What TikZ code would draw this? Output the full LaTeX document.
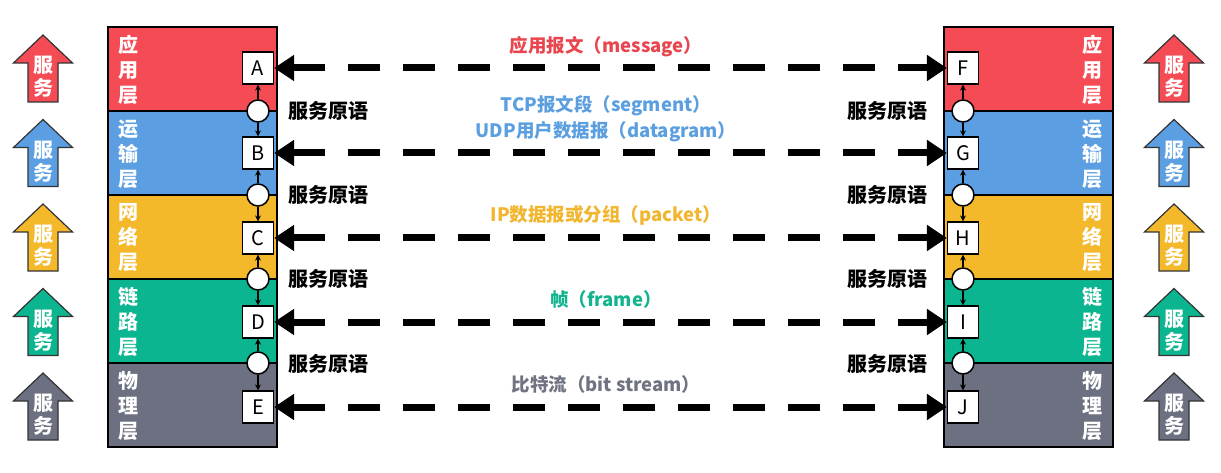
\documentclass[tikz,border=0pt]{standalone}
\usepackage{fontspec}
\setmainfont{Noto Sans CJK SC}
\usetikzlibrary{arrows.meta}
\definecolor{lred}{HTML}{F44B55}
\definecolor{lblue}{HTML}{5B9FE2}
\definecolor{lyellow}{HTML}{F4B92B}
\definecolor{lgreen}{HTML}{0BB58F}
\definecolor{lgray}{HTML}{6C7081}
\definecolor{tred}{HTML}{E9454F}
\definecolor{tblue}{HTML}{5B9FE0}
\definecolor{tyellow}{HTML}{F1B52E}
\definecolor{tgreen}{HTML}{12B48E}
\definecolor{tgray}{HTML}{707382}
\tikzset{
  layerbox/.style={draw=black, line width=1.5pt, minimum width=169pt, minimum height=84pt, inner sep=0pt, outer sep=0pt},
  layertext/.style={text=white, font=\fontsize{20}{25}\selectfont\bfseries, align=center, inner sep=0pt},
  sapbox/.style={draw=black, fill=white, line width=1.2pt, minimum width=31pt, minimum height=32pt, inner sep=0pt, font=\fontsize{20}{22}\selectfont},
  sapcirc/.style={circle, draw=black, fill=white, line width=1.5pt, minimum size=22pt, inner sep=0pt},
  small/.style={line width=1.3pt, -{Stealth[length=6pt,width=6pt]}},
  pdu/.style={line width=7pt, dash pattern=on 32pt off 23pt, {Triangle[length=20pt,width=25pt]}-{Triangle[length=20pt,width=25pt]}, shorten <=0pt, shorten >=0pt},
  pdulabel/.style={font=\fontsize{18.5}{22}\selectfont\bfseries, inner sep=0pt},
  primlabel/.style={font=\fontsize{20}{22}\selectfont\bfseries, inner sep=0pt},
  svctext/.style={text=white, font=\fontsize{20}{23}\selectfont\bfseries, align=center, inner sep=0pt}
}
\begin{document}
\begin{tikzpicture}[x=1pt,y=-1pt]
\useasboundingbox (0,0) rectangle (1221,473);
% layer stacks
\foreach \c [count=\k from 0] in {lred,lblue,lyellow,lgreen,lgray}{
  \node[layerbox, fill=\c] (Ls\k) at (192.5, 69+84*\k) {};
  \node[layerbox, fill=\c] (Rs\k) at (1028.5, 69+84*\k) {};
}
% layer names
\node[layertext] (ln0) at (128,70) {应\\用\\层};
\node[layertext] (ln1) at (128,154) {运\\输\\层};
\node[layertext] (ln2) at (128,238) {网\\络\\层};
\node[layertext] (ln3) at (128,322) {链\\路\\层};
\node[layertext] (ln4) at (128,406) {物\\理\\层};
\node[layertext] (rn0) at (1092,70) {应\\用\\层};
\node[layertext] (rn1) at (1092,154) {运\\输\\层};
\node[layertext] (rn2) at (1092,238) {网\\络\\层};
\node[layertext] (rn3) at (1092,322) {链\\路\\层};
\node[layertext] (rn4) at (1092,406) {物\\理\\层};
% SAP boxes
\node[sapbox] (A) at (258,68) {A};
\node[sapbox] (B) at (258,153) {B};
\node[sapbox] (C) at (258,238) {C};
\node[sapbox] (D) at (258,322) {D};
\node[sapbox] (E) at (258,407) {E};
\node[sapbox] (F) at (963,68) {F};
\node[sapbox] (G) at (963,153) {G};
\node[sapbox] (H) at (963,238) {H};
\node[sapbox] (I) at (963,322) {I};
\node[sapbox] (J) at (963,407) {J};
% circles
\node[sapcirc] (cl1) at (258,111) {};
\node[sapcirc] (cl2) at (258,195) {};
\node[sapcirc] (cl3) at (258,279) {};
\node[sapcirc] (cl4) at (258,363) {};
\node[sapcirc] (cr1) at (963,111) {};
\node[sapcirc] (cr2) at (963,195) {};
\node[sapcirc] (cr3) at (963,279) {};
\node[sapcirc] (cr4) at (963,363) {};
\draw[small] (cl1) -- (A); \draw[small] (cl1) -- (B);
\draw[small] (cl2) -- (B); \draw[small] (cl2) -- (C);
\draw[small] (cl3) -- (C); \draw[small] (cl3) -- (D);
\draw[small] (cl4) -- (D); \draw[small] (cl4) -- (E);
\draw[small] (cr1) -- (F); \draw[small] (cr1) -- (G);
\draw[small] (cr2) -- (G); \draw[small] (cr2) -- (H);
\draw[small] (cr3) -- (H); \draw[small] (cr3) -- (I);
\draw[small] (cr4) -- (I); \draw[small] (cr4) -- (J);
% peer arrows
\draw[pdu] (A.east) -- (F.west);
\draw[pdu] (B.east) -- (G.west);
\draw[pdu] (C.east) -- (H.west);
\draw[pdu] (D.east) -- (I.west);
\draw[pdu] (E.east) -- (J.west);
% PDU labels
\node[pdulabel, text=tred] (p1) at (606,47) {应用报文（message）};
\node[pdulabel, text=tblue] (p2a) at (606,106) {TCP报文段（segment）};
\node[pdulabel, text=tblue] (p2b) at (606,132) {UDP用户数据报（datagram）};
\node[pdulabel, text=tyellow] (p3) at (606,215) {IP数据报或分组（packet）};
\node[pdulabel, text=tgreen] (p4) at (606,299) {帧（frame）};
\node[pdulabel, text=tgray] (p5) at (606,384) {比特流（bit stream）};
% primitives
\foreach \y [count=\k] in {111,195,279,364}{
  \node[primlabel, anchor=west] (pl\k) at (288,\y) {服务原语};
  \node[primlabel, anchor=east] (pr\k) at (928,\y) {服务原语};
}
% service arrows
\foreach \c [count=\k from 0] in {lred,lblue,lyellow,lgreen,lgray}{
  \foreach \cx/\nm in {43/sl,1174/sr}{
    \pgfmathsetmacro{\t}{35+84.5*\k}
    \draw[fill=\c, draw=black!80, line width=1.2pt, line join=miter]
      (\cx,\t) -- (\cx+29.5,\t+28) -- (\cx+15,\t+28) -- (\cx+15,\t+67)
      -- (\cx-15,\t+67) -- (\cx-15,\t+28) -- (\cx-29.5,\t+28) -- cycle;
    \node[svctext] (\nm\k) at (\cx,\t+42) {服\\务};
  }
}
\end{tikzpicture}
\end{document}
